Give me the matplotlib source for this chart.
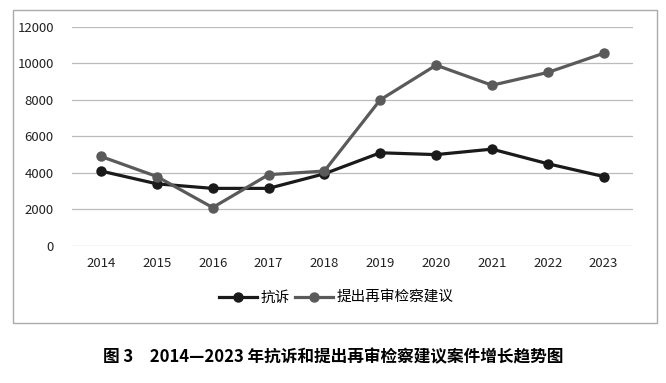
import matplotlib.pyplot as plt
import matplotlib.patches as patches

plt.rcParams['font.family'] = ['Noto Sans CJK SC', 'DejaVu Sans']

# 数据
years = ['2014', '2015', '2016', '2017', '2018', '2019', '2020', '2021', '2022', '2023']
kangsu = [4100, 3400, 3150, 3150, 3950, 5100, 5000, 5300, 4500, 3800]
jianyi = [4900, 3800, 2100, 3900, 4100, 8000, 9900, 8800, 9500, 10550]

fig = plt.figure(figsize=(6.66, 3.83), dpi=100)
ax = fig.add_axes([0.108, 0.358, 0.842, 0.572])

x = range(len(years))
ax.plot(x, kangsu, color='#1a1a1a', lw=2.3, marker='o', markersize=6.5, label='抗诉', zorder=3)
ax.plot(x, jianyi, color='#5a5a5a', lw=2.3, marker='o', markersize=6.5, label='提出再审检察建议', zorder=3)

ax.set_ylim(0, 12000)
ax.set_yticks(range(0, 12001, 2000))
ax.set_xlim(-0.52, 9.52)
ax.set_xticks(list(x))
ax.set_xticklabels(years)
ax.tick_params(axis='both', length=0, labelsize=9.5, colors='#222222')
ax.tick_params(axis='x', pad=8)
ax.tick_params(axis='y', pad=13)
ax.grid(axis='y', color='#bbbbbb', lw=0.9)
ax.set_axisbelow(True)
for s in ax.spines.values():
    s.set_visible(False)

fig.legend(loc='center', bbox_to_anchor=(0.505, 0.222), ncol=2, frameon=False,
           fontsize=10.5, handlelength=2.6, columnspacing=0.3, handletextpad=0.3)

# 外框
fig.patches.append(patches.Rectangle((13 / 666, 60 / 383), 644 / 666, 313 / 383,
                                     transform=fig.transFigure, fill=False,
                                     edgecolor='#aaaaaa', lw=1.0))

fig.text(0.5, 0.068, '图 3　2014—2023 年抗诉和提出再审检察建议案件增长趋势图',
         ha='center', va='center', fontsize=12, fontweight='bold')

fig.savefig('out.png', dpi=100)
